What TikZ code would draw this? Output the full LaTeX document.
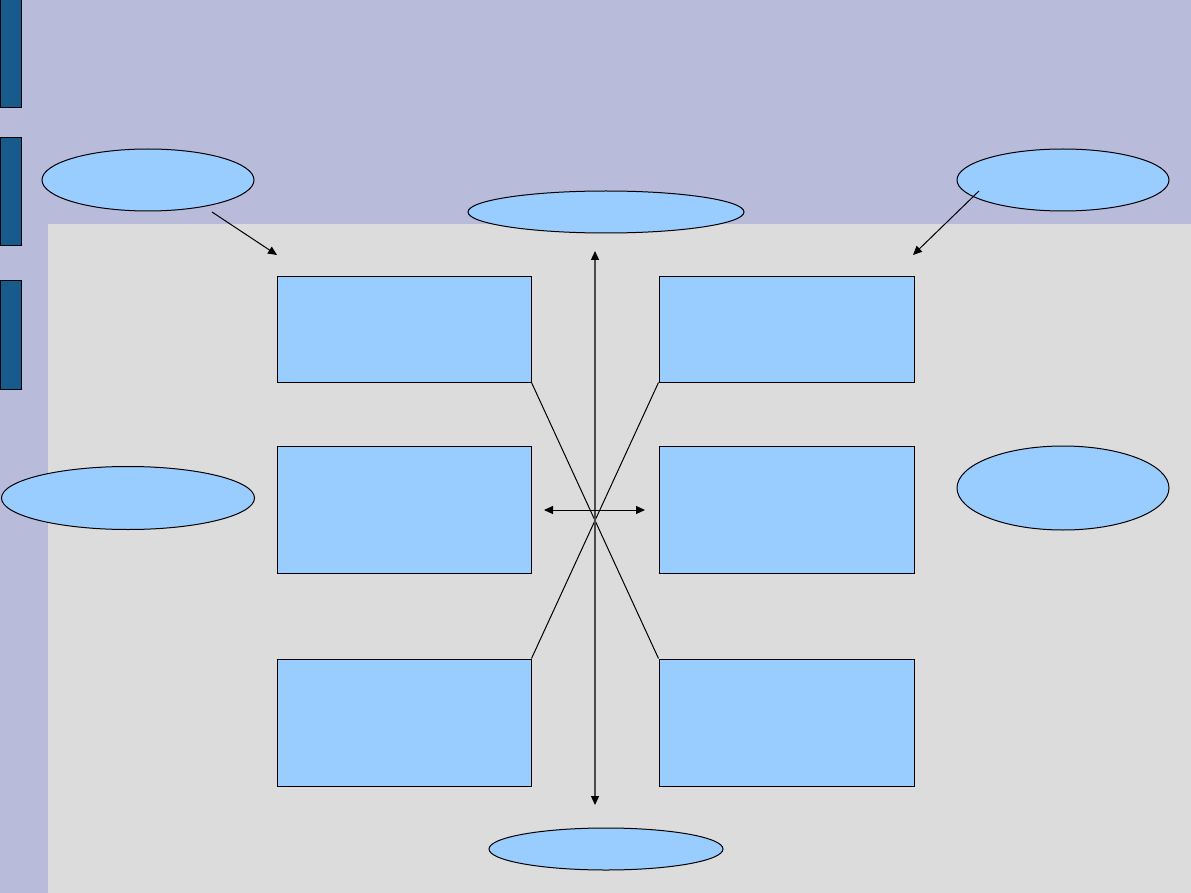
\documentclass[tikz,border=0pt]{standalone}
\usetikzlibrary{shapes.geometric,arrows.meta}
\definecolor{lav}{HTML}{B8BCDA}
\definecolor{panel}{HTML}{DCDCDC}
\definecolor{bar}{HTML}{165B8C}
\definecolor{boxfill}{HTML}{99CCFF}
\begin{document}
\begin{tikzpicture}[x=1pt,y=-1pt,
  barbox/.style={draw=black,fill=bar,line width=1pt},
  box/.style={draw=black,fill=boxfill,line width=1pt,inner sep=0pt,rectangle},
  oval/.style={draw=black,fill=boxfill,line width=1pt,inner sep=0pt,ellipse},
  tip/.style={-{Triangle[width=8pt,length=9pt,black]}},
  dtip/.style={{Triangle[width=8pt,length=9pt,black]}-{Triangle[width=8pt,length=9pt,black]}},
  link/.style={draw=black,line width=1pt}]
\useasboundingbox (0,0) rectangle (1191,893);
\fill[lav] (0,0) rectangle (1191,893);
\fill[panel] (48,224) rectangle (1191,893);
\draw[barbox] (0,0) rectangle (21,108);
\draw[barbox] (0,138) rectangle (21,246);
\draw[barbox] (0,281) rectangle (21,389);
% ellipses
\node[oval,minimum width=212pt,minimum height=62pt] (e1) at (148,180) {};
\node[oval,minimum width=276pt,minimum height=42pt] (e2) at (606,212) {};
\node[oval,minimum width=212pt,minimum height=62pt] (e3) at (1063,180) {};
\node[oval,minimum width=253pt,minimum height=63pt] (e4) at (128,498) {};
\node[oval,minimum width=212pt,minimum height=84pt] (e5) at (1063,488) {};
\node[oval,minimum width=234pt,minimum height=42pt] (e6) at (606,849) {};
% boxes
\node[box,minimum width=254pt,minimum height=105pt] (r1) at (404,329.5) {};
\node[box,minimum width=255pt,minimum height=105pt] (r2) at (786.5,329.5) {};
\node[box,minimum width=254pt,minimum height=127pt] (r3) at (404,509.5) {};
\node[box,minimum width=255pt,minimum height=127pt] (r4) at (786.5,509.5) {};
\node[box,minimum width=254pt,minimum height=127pt] (r5) at (404,722.5) {};
\node[box,minimum width=255pt,minimum height=127pt] (r6) at (786.5,722.5) {};
% crossing lines
\draw[link] (r1.south east) -- (r6.north west);
\draw[link] (r2.south west) -- (r5.north east);
% arrows
\coordinate (vt) at (595,251);
\coordinate (vb) at (595,805);
\draw[dtip,draw=black!70,line width=1.3pt] (vt) -- (vb);
\coordinate (hl) at (544,510);
\coordinate (hr) at (645,510);
\draw[dtip,link] (hl) -- (hr);
\coordinate (a1s) at (212,212);
\coordinate (a1e) at (277,255);
\draw[tip,link] (a1s) -- (a1e);
\coordinate (a2s) at (979,191);
\coordinate (a2e) at (913,255);
\draw[tip,link] (a2s) -- (a2e);
\end{tikzpicture}
\end{document}
